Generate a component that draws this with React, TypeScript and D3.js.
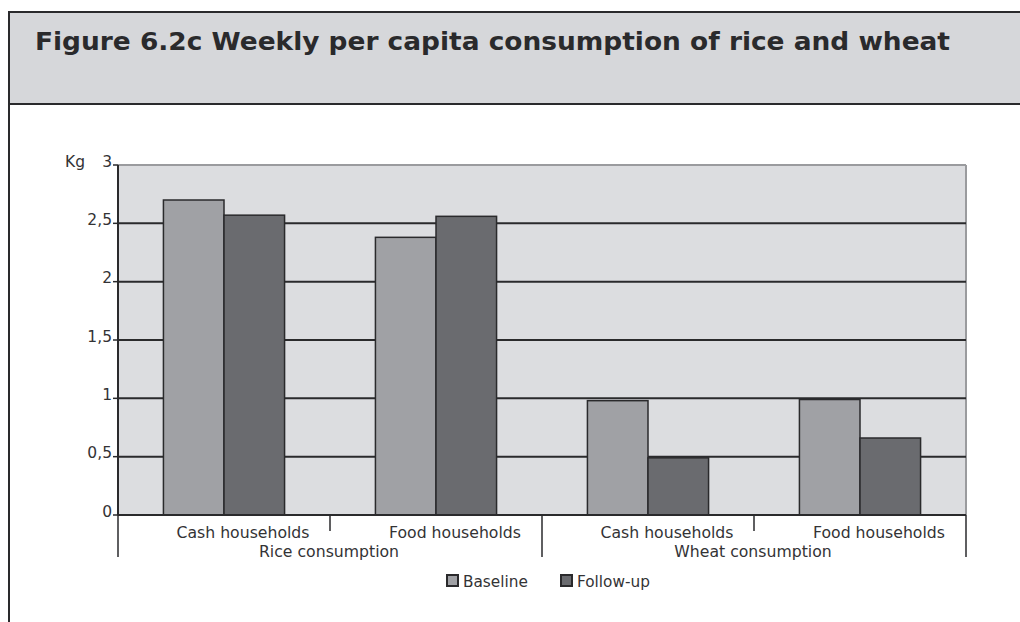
import React from "react";
import * as d3 from "d3";

const categories = ["Cash households", "Food households", "Cash households", "Food households"];
const groups = ["Rice consumption", "Wheat consumption"];
const seriesNames = ["Baseline", "Follow-up"];
const baseline = [2.7, 2.38, 0.98, 0.99];
const followUp = [2.57, 2.56, 0.49, 0.66];
const yTicks = [0, 0.5, 1, 1.5, 2, 2.5, 3];
const yTickLabels = ["0", "0,5", "1", "1,5", "2", "2,5", "3"];
const title = "Figure 6.2c Weekly per capita consumption of rice and wheat";
const yUnit = "Kg";

const W = 1020;
const H = 622;
const FONT = "'DejaVu Sans', Verdana, sans-serif";
const TEXT = "#333335";
const DARK = "#2a2a2c";
const COLORS = ["#a0a1a5", "#6a6b6f"];

export default function App() {
  const left = 118, right = 966, top = 165, bottom = 515;
  const keys = categories.map((_, i) => String(i));
  const x0 = d3.scaleBand<string>().domain(keys).range([left, right]).paddingInner(0).paddingOuter(0);
  const x1 = d3.scaleBand<string>().domain(seriesNames).range([0, x0.bandwidth()]).paddingInner(0).paddingOuter(0.75);
  const y = d3.scaleLinear().domain([0, 3]).range([bottom, top]);
  const values = [baseline, followUp];
  const bw = x0.bandwidth();

  return (
    <svg width={W} height={H} style={{ position: "absolute", left: 0, top: 0, background: "#fff" }} fontFamily={FONT}>
      {/* header */}
      <rect x={9} y={12} width={W - 9} height={92} fill="#d6d7da" />
      <line x1={9} x2={W} y1={12} y2={12} stroke={DARK} strokeWidth={2} />
      <line x1={9} x2={W} y1={104} y2={104} stroke={DARK} strokeWidth={2} />
      <line x1={9} x2={9} y1={11} y2={H} stroke={DARK} strokeWidth={2} />
      <text x={35} y={50} fontSize={25} fontWeight="bold" fill={DARK} textLength={915} lengthAdjust="spacingAndGlyphs">{title}</text>

      {/* plot area */}
      <rect x={left} y={top} width={right - left} height={bottom - top} fill="#dcdde0" />
      <line x1={left} x2={right} y1={top} y2={top} stroke="#9a9b9e" strokeWidth={2} />
      <line x1={right} x2={right} y1={top} y2={bottom} stroke="#9a9b9e" strokeWidth={2} />
      {yTicks.slice(1, -1).map((t) => (
        <line key={t} x1={left} x2={right} y1={y(t)} y2={y(t)} stroke={DARK} strokeWidth={2} />
      ))}

      {/* bars */}
      {keys.map((k, i) => (
        <g key={k} transform={`translate(${x0(k)},0)`}>
          {seriesNames.map((s, j) => (
            <rect
              key={s}
              x={x1(s)}
              y={y(values[j][i])}
              width={x1.bandwidth()}
              height={y(0) - y(values[j][i])}
              fill={COLORS[j]}
              stroke={DARK}
              strokeWidth={1.5}
            />
          ))}
        </g>
      ))}

      {/* y axis */}
      <line x1={left} x2={left} y1={top} y2={bottom} stroke={DARK} strokeWidth={2} />
      {yTicks.map((t, i) => (
        <g key={t}>
          <line x1={left - 5} x2={left} y1={y(t)} y2={y(t)} stroke={DARK} strokeWidth={1.5} />
          <text x={left - 6} y={y(t)} dy="0.1em" textAnchor="end" fontSize={15.5} fill={TEXT}>{yTickLabels[i]}</text>
        </g>
      ))}
      <text x={65} y={y(3)} dy="0.1em" fontSize={15.5} fill={TEXT}>{yUnit}</text>

      {/* x axis */}
      <line x1={left} x2={right} y1={bottom} y2={bottom} stroke={DARK} strokeWidth={2} />
      {keys.map((k, i) => (
        <g key={k}>
          <text x={(x0(k) as number) + bw / 2 + 19} y={bottom + 23} textAnchor="middle" fontSize={15.7} fill={TEXT}>{categories[i]}</text>
          {i % 2 === 1 && (
            <line x1={(x0(k) as number)} x2={(x0(k) as number)} y1={bottom} y2={bottom + 16} stroke={DARK} strokeWidth={1.5} />
          )}
        </g>
      ))}
      {groups.map((g, gi) => {
        const gx = x0(keys[gi * 2]) as number;
        return (
          <g key={g}>
            <line x1={gx} x2={gx} y1={bottom} y2={bottom + 42} stroke={DARK} strokeWidth={1.5} />
            <text x={gx + bw - 1} y={bottom + 42} textAnchor="middle" fontSize={15.7} fill={TEXT}>{g}</text>
          </g>
        );
      })}
      <line x1={right} x2={right} y1={bottom} y2={bottom + 42} stroke={DARK} strokeWidth={1.5} />

      {/* legend */}
      {seriesNames.map((s, j) => {
        const lx = 446 + j * 114;
        return (
          <g key={s}>
            <rect x={lx + 1} y={575} width={11} height={11} fill={COLORS[j]} stroke={DARK} strokeWidth={2} />
            <text x={lx + 17} y={587} fontSize={15.3} fill={TEXT}>{s}</text>
          </g>
        );
      })}
    </svg>
  );
}
